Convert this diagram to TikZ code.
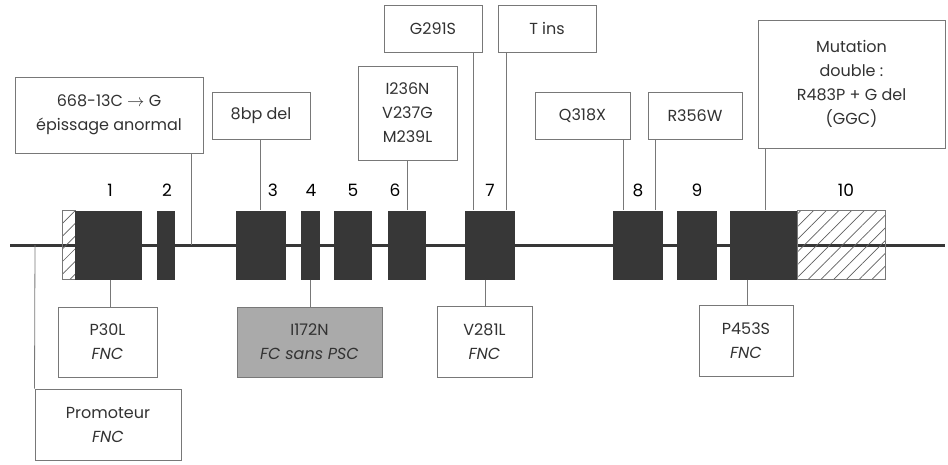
\documentclass[tikz,border=0pt]{standalone}
\usepackage{fontspec}
\setmainfont{Poppins}
\usepackage{tikz}
\usetikzlibrary{patterns.meta,positioning}
\definecolor{exongray}{RGB}{55,55,55}
\definecolor{boxline}{RGB}{120,120,120}
\definecolor{txtgray}{RGB}{50,50,50}
\definecolor{fcgray}{RGB}{170,170,170}

\begin{document}
\begin{tikzpicture}[x=1pt,y=-1pt,
  exon/.style={fill=exongray,minimum height=69pt,inner sep=0pt,anchor=west},
  utr/.style={draw=boxline,line width=0.7pt,minimum height=69pt,inner sep=0pt,anchor=west,
    pattern={Lines[angle=45,distance=9pt,line width=0.7pt]},pattern color=exongray!80},
  mutbox/.style={draw=boxline,line width=1pt,align=center,text=txtgray,inner sep=0pt,
    font=\fontsize{16}{24}\selectfont},
  link/.style={boxline,line width=0.8pt},
  exnum/.style={font=\fontsize{17}{17}\selectfont}]
  \useasboundingbox (0,0) rectangle (948,464);
  % gene line
  \coordinate (gstart) at (10,245);
  \coordinate (gend) at (945,245);
  \draw[exongray,line width=3pt] (gstart)--(gend);
  % exons
  \node[utr,minimum width=13pt] (utr5) at (62,245) {};
  \node[exon,minimum width=67pt] (ex1) at (75,245) {};
  \node[exon,minimum width=18pt] (ex2) at (157,245) {};
  \node[exon,minimum width=50pt] (ex3) at (236,245) {};
  \node[exon,minimum width=19pt] (ex4) at (301,245) {};
  \node[exon,minimum width=38pt] (ex5) at (334,245) {};
  \node[exon,minimum width=38pt] (ex6) at (388,245) {};
  \node[exon,minimum width=50pt] (ex7) at (465,245) {};
  \node[exon,minimum width=50pt] (ex8) at (613,245) {};
  \node[exon,minimum width=40pt] (ex9) at (677,245) {};
  \node[exon,minimum width=67pt] (ex10) at (730,245) {};
  \node[utr,minimum width=88pt] (utr3) at (797,245) {};
  % exon numbers
  \node[exnum] (n1) at (110,190) {1};
  \node[exnum] (n2) at (167,190) {2};
  \node[exnum] (n3) at (273,190) {3};
  \node[exnum] (n4) at (311,190) {4};
  \node[exnum] (n5) at (353,190) {5};
  \node[exnum] (n6) at (395,190) {6};
  \node[exnum] (n7) at (490,190) {7};
  \node[exnum] (n8) at (638,190) {8};
  \node[exnum] (n9) at (697,190) {9};
  \node[exnum] (n10) at (846,190) {10};
  % mutations above the gene
  \node[mutbox,minimum width=188pt,minimum height=76pt] (splice) at (109,115)
    {668-13C $\rightarrow$ G\\épissage anormal};
  \node[mutbox,minimum width=98pt,minimum height=47pt] (del8) at (261,115.5) {8bp del};
  \node[mutbox,minimum width=99pt,minimum height=94pt] (ex6mut) at (407.5,113)
    {I236N\\V237G\\M239L};
  \node[mutbox,minimum width=98pt,minimum height=47pt] (g291s) at (433,28.5) {G291S};
  \node[mutbox,minimum width=98pt,minimum height=47pt] (tins) at (547,28.5) {T ins};
  \node[mutbox,minimum width=95pt,minimum height=47pt] (q318x) at (582.5,115.5) {Q318X};
  \node[mutbox,minimum width=94pt,minimum height=47pt] (r356w) at (695,115.5) {R356W};
  \node[mutbox,minimum width=187pt,minimum height=128pt] (double) at (851.5,84)
    {Mutation\\double :\\R483P + G del\\(GGC)};
  % mutations below the gene
  \node[mutbox,minimum width=99pt,minimum height=70pt] (p30l) at (107.5,342)
    {P30L\\\textit{FNC}};
  \node[mutbox,fill=fcgray,minimum width=145pt,minimum height=70pt] (i172n) at (309.5,342)
    {I172N\\\textit{FC sans PSC}};
  \node[mutbox,minimum width=95pt,minimum height=71pt] (v281l) at (484.5,341.5)
    {V281L\\\textit{FNC}};
  \node[mutbox,minimum width=94pt,minimum height=71pt] (p453s) at (746,340.5)
    {P453S\\\textit{FNC}};
  \node[mutbox,minimum width=146pt,minimum height=71pt] (prom) at (108,424.5)
    {Promoteur\\\textit{FNC}};
  % connectors
  \coordinate (intr2) at (191,245);
  \coordinate (c7a) at (473,210);
  \coordinate (c7b) at (506,210);
  \coordinate (c8a) at (623,210);
  \coordinate (c8b) at (655,210);
  \coordinate (c10) at (765,210);
  \coordinate (cprom) at (35,245);
  \draw[link] (splice.south -| intr2)--(intr2);
  \draw[link] (del8.south -| 260,0)--(ex3.north -| 260,0);
  \draw[link] (ex6mut.south)--(ex6mut.south |- ex6.north);
  \draw[link] (g291s.south -| c7a)--(c7a);
  \draw[link] (tins.south -| c7b)--(c7b);
  \draw[link] (q318x.south -| c8a)--(c8a);
  \draw[link] (r356w.south -| c8b)--(c8b);
  \draw[link] (double.south -| c10)--(c10);
  \draw[link] (ex1.south -| 110,0)--(p30l.north -| 110,0);
  \draw[link] (ex4.south)--(i172n.north -| ex4.south);
  \draw[link] (ex7.south -| 485,0)--(v281l.north -| 485,0);
  \draw[link] (ex10.south -| 747,0)--(p453s.north -| 747,0);
  \draw[link] (cprom)--(prom.north west);
\end{tikzpicture}
\end{document}
